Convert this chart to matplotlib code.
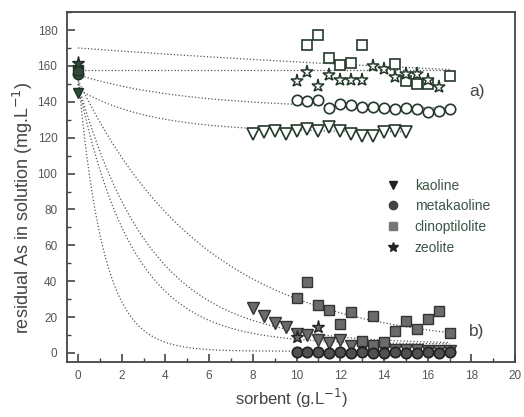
import matplotlib.pyplot as plt
import numpy as np
from matplotlib.ticker import MultipleLocator

plt.rcParams['font.family'] = ['Liberation Sans', 'DejaVu Sans']

# --- data ---
# initial concentration (sorbent = 0)
x0 = [0, 0, 0, 0]
y0 = [145, 155.5, 158, 161.5]
m0 = ['v', 'o', 's', '*']

# a) open symbols
kao_a_x = [8, 8.5, 9, 9.5, 10, 10.5, 11, 11.5, 12, 12.5, 13, 13.5, 14, 14.5, 15]
kao_a_y = [122, 123, 124, 122, 124, 125, 124, 126, 124, 122, 121, 121, 123, 124, 123]
meta_a_x = [10, 10.5, 11, 11.5, 12, 12.5, 13, 13.5, 14, 14.5, 15, 15.5, 16, 16.5, 17]
meta_a_y = [141, 140.5, 141, 136.5, 139, 138, 137, 137, 136.5, 136, 136.5, 136, 134.5, 135, 136]
clino_a_x = [10.5, 11, 11.5, 12, 12.5, 13, 14.5, 15, 15.5, 16, 17]
clino_a_y = [171.5, 177.5, 164.5, 160.5, 161.5, 171.5, 161, 151.5, 150, 150, 154.5]
zeo_a_x = [10, 10.5, 11, 11.5, 12, 12.5, 13, 13.5, 14, 14.5, 15, 15.5, 16, 16.5]
zeo_a_y = [151.5, 156.5, 149, 155, 152, 152, 152, 160, 158.5, 154, 155.5, 155.5, 152, 148.5]

# b) filled symbols
kao_b_x = [8, 8.5, 9, 9.5, 10, 10.5, 11, 11.5, 12, 12.5, 13, 13.5, 14, 14.5, 15, 15.5, 16, 16.5, 17]
kao_b_y = [25, 20.5, 16.5, 14.5, 10.5, 10, 7, 5.5, 7.5, 4, 3, 2, 2, 1.5, 1.5, 1.5, 1, 1, 1]
meta_b_x = [10, 10.5, 11, 11.5, 12, 12.5, 13, 13.5, 14, 14.5, 15, 15.5, 16, 16.5, 17]
meta_b_y = [0.5, 0.3, 0.5, 0.2, 0.3, 0.2, 0.3, 0.2, 0.2, 0.3, 0.2, 0.2, 0.3, 0.2, 0.3]
clino_b_x = [10, 10.5, 11, 11.5, 12, 12.5, 13, 13.5, 13.5, 14, 14.5, 15, 15.5, 16, 16.5, 17]
clino_b_y = [30.5, 39.5, 26.5, 24, 16, 23, 6.5, 20.5, 4.5, 6, 12, 18, 13.5, 19, 23.5, 11]
zeo_b_x = [10, 11]
zeo_b_y = [9, 14.5]

# fitted curves: (start, plateau, rate, last x)
fits = [
    (147, 123, 0.30, 15),    # kaoline a
    (155, 136, 0.20, 17),    # metakaoline a
    (170, 140, 0.03, 17),    # clinoptilolite a
    (158, 158, 0.00, 17),    # zeolite a
    (150, 5, 0.30, 17),      # kaoline b
    (155, 1, 0.86, 17),      # metakaoline b
    (152, 3, 0.17, 17),      # clinoptilolite b
    (150, 5, 0.40, 17),      # zeolite b
]

edge = '#24382b'
fill = '#6b6b6b'
txt = '#444444'

fig = plt.figure(figsize=(5.24, 4.17), dpi=100)
ax = fig.add_axes([0.128, 0.132, 0.855, 0.839])

for a0, ainf, k, xe in fits:
    xs = np.linspace(0, xe, 200)
    ax.plot(xs, ainf + (a0 - ainf) * np.exp(-k * xs), ':', color='#555555', lw=0.9, zorder=1)

ms = 7.5
# a) open
ax.plot(kao_a_x, kao_a_y, 'v', ms=ms + 1, mfc='white', mec=edge, mew=1.2, ls='none', zorder=3)
ax.plot(meta_a_x, meta_a_y, 'o', ms=ms, mfc='white', mec=edge, mew=1.2, ls='none', zorder=3)
ax.plot(clino_a_x, clino_a_y, 's', ms=ms, mfc='white', mec=edge, mew=1.2, ls='none', zorder=3)
ax.plot(zeo_a_x, zeo_a_y, '*', ms=ms + 2, mfc='white', mec=edge, mew=1.1, ls='none', zorder=3)

# b) filled
ax.plot(kao_b_x, kao_b_y, 'v', ms=ms + 1, mfc=fill, mec='#333333', mew=1.0, ls='none', zorder=3)
ax.plot(clino_b_x, clino_b_y, 's', ms=ms, mfc=fill, mec='#333333', mew=1.0, ls='none', zorder=3)
ax.plot(meta_b_x, meta_b_y, 'o', ms=ms, mfc='#505050', mec='#202020', mew=1.2, ls='none', zorder=4)
ax.plot(zeo_b_x, zeo_b_y, '*', ms=ms + 2, mfc=fill, mec='#222222', mew=1.0, ls='none', zorder=4)

for x, y, m in zip(x0, y0, m0):
    ax.plot(x, y, m, ms=ms + (2 if m == '*' else 0), mfc='#2f4a38', mec='#1f2f25', mew=1.0, zorder=5)

# legend
h = [ax.plot([], [], m, ms=6 if m != '*' else 7.5, color='#222222', ls='none')[0] for m in ['v', 'o', 's', '*']]
h[1].set_color('#444444')
h[2].set_color('#777777')
leg = ax.legend(h, ['kaoline', 'metakaoline', 'clinoptilolite', 'zeolite'],
                loc='upper left', bbox_to_anchor=(0.68, 0.56), frameon=False,
                fontsize=10, handlelength=1.2, handletextpad=1.0, labelspacing=0.48)
for t in leg.get_texts():
    t.set_color('#3d5547')

ax.text(17.9, 146, 'a)', fontsize=12.5, color=txt, va='center')
ax.text(17.9, 12, 'b)', fontsize=12.5, color=txt, va='center')

ax.set_xlim(-0.5, 20)
ax.set_ylim(-5, 190)
ax.xaxis.set_major_locator(MultipleLocator(2))
ax.xaxis.set_minor_locator(MultipleLocator(1))
ax.yaxis.set_minor_locator(MultipleLocator(10))
ax.set_yticks(np.arange(0, 181, 20))
ax.tick_params(which='both', direction='in', top=False, right=False,
               labelsize=8.5, labelcolor='#555555', color=txt)
ax.tick_params(axis='y', pad=7)
ax.tick_params(axis='x', pad=6)
ax.tick_params(which='major', length=6, width=1.2)
ax.tick_params(which='minor', length=3, width=1.0)
for s in ax.spines.values():
    s.set_color(txt)
    s.set_linewidth(1.3)

ax.set_xlabel('sorbent (g.L$^{-1}$)', fontsize=12, color=txt)
ax.set_ylabel('residual As in solution (mg.L$^{-1}$)', fontsize=13, color=txt)
ax.xaxis.set_label_coords(0.5, -0.072)
ax.yaxis.set_label_coords(-0.072, 0.44)

fig.savefig('out.png', dpi=100)
